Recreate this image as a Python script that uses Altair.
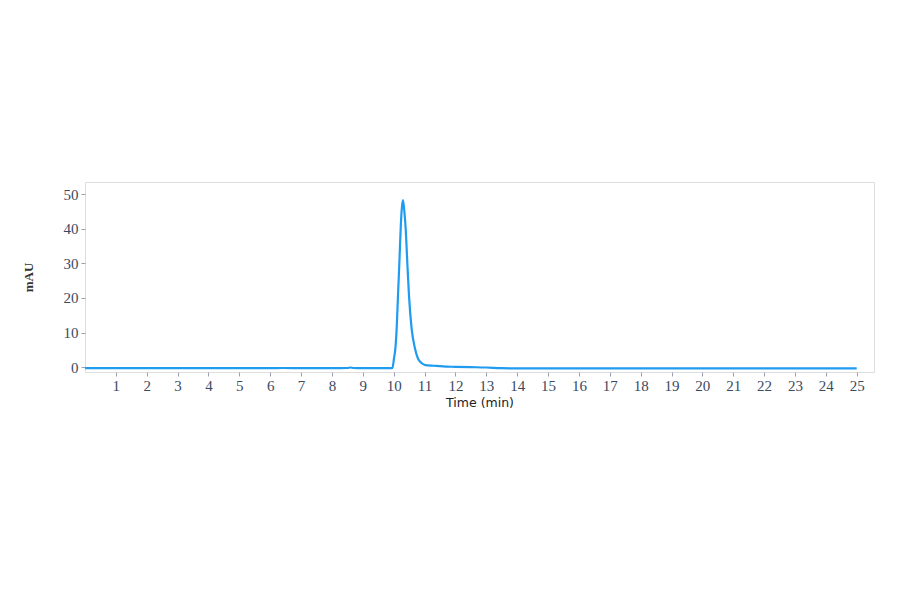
import altair as alt
import pandas as pd

time_min = [0.0, 1.0, 2.0, 3.0, 4.0, 5.0, 6.0, 6.4, 7.0, 8.0, 8.5, 8.6, 8.7, 9.0, 9.5, 9.9, 9.96,
            10.01, 10.055, 10.097, 10.14, 10.185, 10.227, 10.26, 10.30, 10.34, 10.388,
            10.44, 10.495, 10.58, 10.69, 10.786, 10.9, 11.03, 11.3,
            11.6, 12.0, 12.5, 13.0, 13.5, 14.0, 15.0, 16.0, 17.0, 18.0, 19.0, 20.0, 21.0,
            22.0, 23.0, 24.0, 25.0]
mau = [-0.3, -0.3, -0.3, -0.3, -0.3, -0.3, -0.3, -0.25, -0.3, -0.3, -0.25, -0.1, -0.25, -0.3, -0.3, -0.3, -0.2,
       2.5, 5.4, 11.2, 20.8, 30.4, 40.1, 45.5, 48.3, 45.5, 40.1,
       30.4, 20.8, 11.2, 5.4, 2.5, 1.2, 0.6, 0.4,
       0.2, 0.1, 0.0, -0.1, -0.3, -0.35, -0.35, -0.35, -0.35, -0.35, -0.35, -0.35, -0.35,
       -0.35, -0.35, -0.35, -0.35]

x_ticks = list(range(1, 26))
y_ticks = [0, 10, 20, 30, 40, 50]

df = pd.DataFrame({"t": time_min, "v": mau})

chart = alt.Chart(df).mark_line(color="#1f9bf0", strokeWidth=2.2, interpolate="monotone").encode(
    x=alt.X("t:Q", scale=alt.Scale(domain=[0, 25.56], nice=False, zero=False),
            axis=alt.Axis(title="Time (min)", values=x_ticks, grid=False, labelFont="Liberation Serif",
                          labelFontSize=15, labelColor="#3b4a5f", tickColor="#9aa0ad", tickSize=4,
                          domain=False, titleFont="DejaVu Sans", titleFontSize=12.5,
                          titleFontWeight="normal", titleColor="#222222", titlePadding=3,
                          labelPadding=2)),
    y=alt.Y("v:Q", scale=alt.Scale(domain=[-1.4, 53.5], nice=False, zero=False),
            axis=alt.Axis(title="mAU", values=y_ticks, grid=False, labelFont="Liberation Serif",
                          labelFontSize=15, labelColor="#3b4a5f", tickColor="#9aa0ad", tickSize=4,
                          domain=False, titleFont="Liberation Serif", titleFontSize=13,
                          titleFontWeight="bold", titleColor="#333333", titlePadding=28,
                          labelPadding=3)),
).properties(
    width=789, height=190,
    autosize=alt.AutoSizeParams(type="none"),
    padding={"left": 77, "top": 174, "right": 10, "bottom": 190},
).configure_view(
    stroke="#aeb3c3", strokeWidth=1.2, fill="#fcfcfd"
).configure(background="white")

chart.save("out.html", embed_options={"renderer": "svg", "actions": False})
